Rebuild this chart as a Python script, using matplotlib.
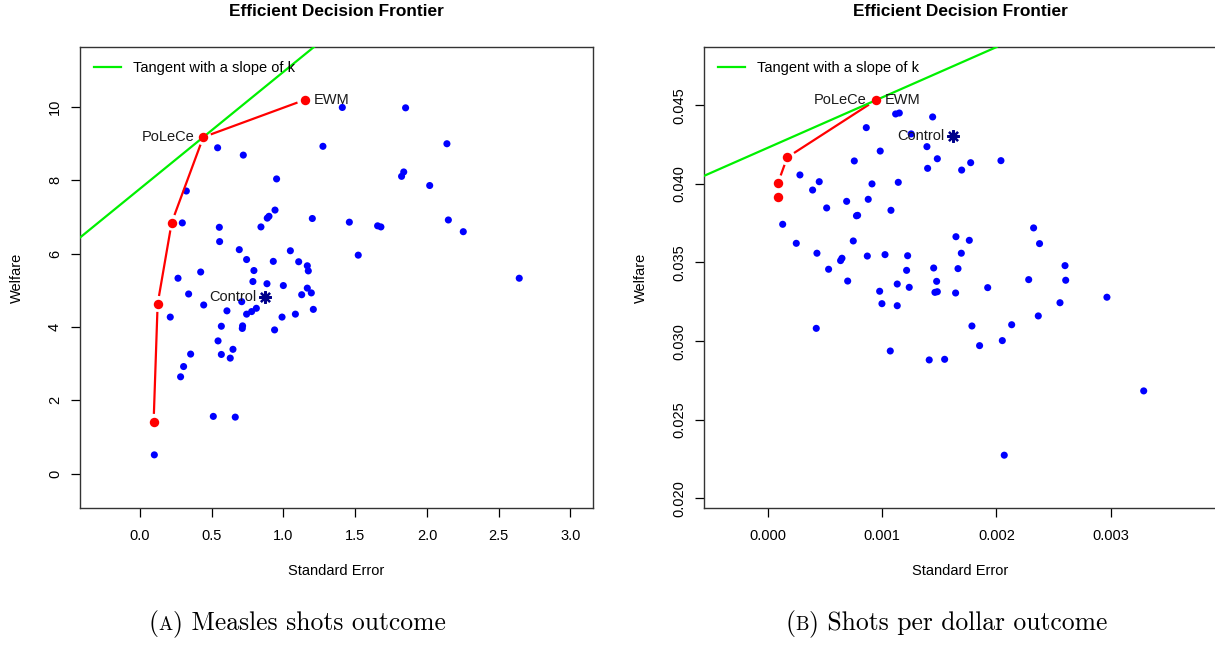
import numpy as np
import matplotlib
matplotlib.use("Agg")
import matplotlib.pyplot as plt
from matplotlib.lines import Line2D

plt.rcParams['font.family'] = ['Liberation Sans', 'DejaVu Sans']

# ---------------- data: panel A (measles shots) ----------------
a_se = [0.541, 0.720, 1.275, 0.952, 0.323, 0.941, 0.899, 0.887, 1.201, 0.295,
        0.553, 0.843, 0.555, 0.692, 1.048, 0.743, 0.929, 1.106, 1.166, 1.173,
        0.794, 0.423, 0.265, 0.787, 0.885, 0.999, 1.166, 1.194, 1.127, 0.339,
        0.444, 0.709, 0.606, 0.743, 0.778, 0.811, 0.211, 0.990, 1.083, 1.208,
        0.567, 0.715, 0.713, 0.938, 0.544, 0.353, 0.567, 0.648, 0.629, 0.304,
        0.283, 0.511, 0.664, 0.100, 1.410, 1.851, 2.139, 1.838, 1.823, 2.019,
        1.459, 1.656, 1.679, 2.149, 2.253, 1.521, 2.643]
a_welfare = [8.89, 8.69, 8.93, 8.04, 7.71, 7.19, 7.02, 6.97, 6.96, 6.84,
             6.72, 6.73, 6.33, 6.11, 6.08, 5.84, 5.79, 5.78, 5.67, 5.53,
             5.54, 5.50, 5.33, 5.24, 5.18, 5.13, 5.06, 4.93, 4.88, 4.90,
             4.60, 4.69, 4.44, 4.35, 4.42, 4.51, 4.27, 4.27, 4.35, 4.48,
             4.02, 4.03, 3.96, 3.92, 3.62, 3.26, 3.25, 3.39, 3.15, 2.92,
             2.64, 1.56, 1.54, 0.51, 9.99, 9.98, 9.00, 8.23, 8.11, 7.86,
             6.86, 6.76, 6.73, 6.92, 6.60, 5.96, 5.33]
a_frontier_se = [0.095, 0.123, 0.221, 0.441, 1.150]
a_frontier_welfare = [1.41, 4.63, 6.85, 9.18, 10.20]
a_control = (0.871, 4.82)
a_polece = (0.441, 9.18)
a_ewm = (1.150, 10.20)
a_slope = 3.19
a_xticks = [0.0, 0.5, 1.0, 1.5, 2.0, 2.5, 3.0]
a_yticks = [0, 2, 4, 6, 8, 10]

# ---------------- data: panel B (shots per dollar) ----------------
b_se = [0.001118, 0.001150, 0.001442, 0.000861, 0.000983, 0.001392, 0.001483, 0.001398,
        0.000756, 0.000280, 0.000449, 0.000391, 0.000911, 0.001141, 0.000689, 0.000878,
        0.000514, 0.001077, 0.000785, 0.000775, 0.000129, 0.000747, 0.000248, 0.000429,
        0.000870, 0.001025, 0.001223, 0.000648, 0.000636, 0.000531, 0.001214, 0.001451,
        0.001477, 0.000698, 0.001132, 0.001237, 0.000978, 0.001462, 0.001483, 0.000998,
        0.001132, 0.000423, 0.001071, 0.001412, 0.001696, 0.001775, 0.002040, 0.002326,
        0.002378, 0.001646, 0.001763, 0.001693, 0.001664, 0.002601, 0.002283, 0.002607,
        0.001924, 0.001643, 0.002557, 0.002968, 0.001786, 0.002134, 0.002367, 0.001853,
        0.002052, 0.001547, 0.003290, 0.002069, 0.001254]
b_welfare = [0.04445, 0.04451, 0.04426, 0.04358, 0.04209, 0.04237, 0.04160, 0.04099,
             0.04146, 0.04057, 0.04014, 0.03961, 0.04000, 0.04010, 0.03889, 0.03902,
             0.03847, 0.03832, 0.03800, 0.03797, 0.03743, 0.03637, 0.03622, 0.03559,
             0.03541, 0.03550, 0.03543, 0.03527, 0.03512, 0.03457, 0.03450, 0.03465,
             0.03380, 0.03382, 0.03363, 0.03342, 0.03317, 0.03310, 0.03314, 0.03238,
             0.03225, 0.03081, 0.02937, 0.02880, 0.04088, 0.04135, 0.04148, 0.03720,
             0.03620, 0.03664, 0.03641, 0.03559, 0.03461, 0.03480, 0.03391, 0.03387,
             0.03340, 0.03306, 0.03244, 0.03279, 0.03096, 0.03104, 0.03160, 0.02971,
             0.03003, 0.02884, 0.02683, 0.02274, 0.04318]
b_frontier_se = [0.0000876, 0.0000876, 0.000169, 0.000943]
b_frontier_welfare = [0.03919, 0.04006, 0.04169, 0.04532]
b_control = (0.001617, 0.04307)
b_polece = (0.000943, 0.04532)
b_ewm = (0.000943, 0.04532)
b_slope = 3.20
b_xticks = [0.000, 0.001, 0.002, 0.003]
b_yticks = [0.020, 0.025, 0.030, 0.035, 0.040, 0.045]

W, H = 1215, 649
fig = plt.figure(figsize=(W / 100, H / 100), dpi=100)

def px_rect(l, r, t, b):
    return [l / W, (H - b) / H, (r - l) / W, (b - t) / H]

ax_a = fig.add_axes(px_rect(80, 593, 47, 508))
ax_b = fig.add_axes(px_rect(704, 1216, 47, 508))

TXT = 10.5
GREEN = '#00F000'

def gapped_line(ax, xs, ys, gap_px, **kw):
    pts = ax.transData.transform(np.column_stack([xs, ys]))
    inv = ax.transData.inverted()
    for p, q in zip(pts[:-1], pts[1:]):
        d = q - p
        L = np.hypot(*d)
        if L <= 2 * gap_px:
            continue
        u = d / L
        seg = inv.transform(np.array([p + u * gap_px, q - u * gap_px]))
        ax.plot(seg[:, 0], seg[:, 1], **kw)

def panel(ax, se, wf, fse, fwf, control, polece, ewm, slope, xlim, ylim,
          xticks, yticks, xfmt, yfmt, ylab_x):
    ax.set_xlim(*xlim)
    ax.set_ylim(*ylim)
    ax.scatter(se, wf, s=26, color='#0000FF', edgecolors='none', zorder=2)
    ax.plot([control[0]], [control[1]], linestyle='none', marker=(8, 2, 0),
            markersize=9, markeredgewidth=1.6, color='#00008B', zorder=3)
    ax.annotate('Control', control, xytext=(-6, 0), textcoords='offset points',
                ha='right', va='center', fontsize=TXT, color='#1a1a1a')
    gapped_line(ax, fse, fwf, 8, color='#FF0000', lw=1.6, zorder=3,
                solid_capstyle='butt')
    ax.plot(fse, fwf, linestyle='none', marker='o', markersize=6.8,
            color='#FF0000', markeredgewidth=0, zorder=4)
    ax.axline(polece, slope=slope, color=GREEN, lw=1.6, zorder=3)
    ax.annotate('PoLeCe', polece, xytext=(-6.5, 0), textcoords='offset points',
                ha='right', va='center', fontsize=TXT, color='#1a1a1a')
    ax.annotate('EWM', ewm, xytext=(6.5, 0), textcoords='offset points',
                ha='left', va='center', fontsize=TXT, color='#1a1a1a')
    ax.set_xticks(xticks)
    ax.set_xticklabels([xfmt.format(v) for v in xticks])
    ax.set_yticks(yticks)
    ax.set_yticklabels([yfmt.format(v) for v in yticks], rotation=90, va='center')
    ax.tick_params(axis='both', direction='out', length=6.5, width=0.9,
                   labelsize=TXT, colors='black')
    ax.tick_params(axis='x', pad=8.5)
    ax.tick_params(axis='y', pad=6.5)
    for s in ax.spines.values():
        s.set_linewidth(1.0)
        s.set_color('#333333')
    ax.set_xlabel('Standard Error', fontsize=TXT, va='center')
    ax.set_ylabel('Welfare', fontsize=TXT, va='center')
    ax.xaxis.set_label_coords(0.5, (508 - 571) / 461)
    ax.yaxis.set_label_coords(ylab_x, 0.5)
    ax.set_title('Efficient Decision Frontier', fontsize=12.4, fontweight='bold',
                 y=(508 - 12) / 461, va='center', pad=0)
    handle = Line2D([0], [0], color=GREEN, lw=1.6)
    ax.legend([handle], ['Tangent with a slope of k'], loc='upper left',
              frameon=False, fontsize=TXT, handlelength=1.85, handletextpad=0.82,
              borderaxespad=0.55, borderpad=0.4)

panel(ax_a, a_se, a_welfare, a_frontier_se, a_frontier_welfare, a_control,
      a_polece, a_ewm, a_slope, (-0.418, 3.157), (-0.94, 11.64),
      a_xticks, a_yticks, '{:.1f}', '{:d}', (17 - 80) / 513)
panel(ax_b, b_se, b_welfare, b_frontier_se, b_frontier_welfare, b_control,
      b_polece, b_ewm, b_slope, (-0.00056, 0.003923), (0.01938, 0.04871),
      b_xticks, b_yticks, '{:.3f}', '{:.3f}', (641 - 704) / 512)

# ---------------- captions (small-caps letter) ----------------
cap_font = 'cmr10'
renderer = fig.canvas.get_renderer()

def caption(center_px, y_px, letter, rest, big=18.4, small=13.6):
    pieces = [('(', big), (letter, small), (')', big), ('\u00a0' + rest, big)]
    texts = []
    for s, fs in pieces:
        t = fig.text(0, 1 - y_px / H, s, fontsize=fs, family=cap_font,
                     ha='left', va='baseline')
        texts.append(t)
    widths = [t.get_window_extent(renderer).width for t in texts]
    total = sum(widths)
    x = center_px - total / 2
    for t, wdt in zip(texts, widths):
        t.set_x(x / W)
        x += wdt

caption(297, 630, 'A', 'Measles shots outcome')
caption(946, 630, 'B', 'Shots per dollar outcome')

fig.savefig('out.png', dpi=100)
